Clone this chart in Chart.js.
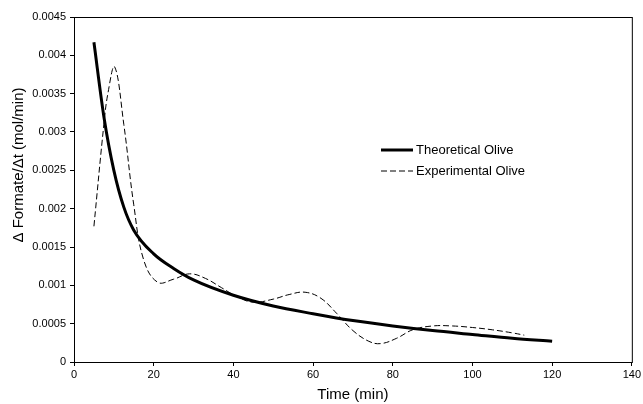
<!DOCTYPE html>
<html>
<head>
<meta charset="utf-8">
<script src="https://cdn.jsdelivr.net/npm/chart.js@4.4.1/dist/chart.umd.min.js"></script>
<style>
  html, body { margin: 0; padding: 0; background: #fff; }
  #wrap { width: 643px; height: 404px; }
</style>
</head>
<body>
<div id="wrap"><canvas id="chart"></canvas></div>
<script>
// Theoretical curve
const theoTime = [5, 7.5, 10, 12.5, 15, 20, 25, 30, 40, 50, 60, 70, 80, 90, 100, 110, 120];
const theoRate = [0.00417, 0.0032, 0.0025, 0.00202, 0.00172, 0.00141, 0.00122, 0.00107, 0.00087, 0.00073, 0.00063, 0.00054, 0.00047, 0.00041, 0.00036, 0.00031, 0.00027];

// Experimental curve
const expTime = [5, 7.5, 8.5, 10.2, 12.5, 15, 17.5, 21, 25, 29, 33, 37, 41, 45, 50, 54, 58, 62, 66, 70, 74, 77, 81, 85, 90, 95, 100, 105, 110, 113];
const expRate = [0.00177, 0.0031, 0.0035, 0.00385, 0.0031, 0.00205, 0.00133, 0.00104, 0.00108, 0.00115, 0.00109, 0.00097, 0.00085, 0.00078, 0.00082, 0.00088, 0.00091, 0.00083, 0.00063, 0.00041, 0.00027, 0.00024, 0.00031, 0.00042, 0.00047, 0.00047, 0.00045, 0.00042, 0.00038, 0.00035];

const xTicks = [0, 20, 40, 60, 80, 100, 120, 140];
const yTicks = [0, 0.0005, 0.001, 0.0015, 0.002, 0.0025, 0.003, 0.0035, 0.004, 0.0045];

const yTitle = 'Δ Formate/Δt (mol/min)';

const toPoints = (xs, ys) => xs.map((x, i) => ({ x: x, y: ys[i] }));

// box around the plot area, plus the y title (sits a bit above centre in the original)
const frame = {
    id: 'frame',
    afterDraw(chart) {
        const { ctx, chartArea: a } = chart;
        ctx.save();
        ctx.strokeStyle = '#000';
        ctx.lineWidth = 1;
        ctx.strokeRect(a.left + 0.5, a.top + 0.5, a.right - a.left, a.bottom - a.top);

        ctx.translate(19, 165);
        ctx.rotate(-Math.PI / 2);
        ctx.font = '15px "Liberation Sans", Arial, sans-serif';
        ctx.fillStyle = '#000';
        ctx.textAlign = 'center';
        ctx.textBaseline = 'middle';
        ctx.fillText(yTitle, 0, 0);
        ctx.restore();
    }
};

// legend placed inside the plot like the original
const innerLegend = {
    id: 'innerLegend',
    afterDraw(chart) {
        const ctx = chart.ctx;
        const x0 = 381, y0 = 150, gap = 21;
        ctx.save();
        ctx.font = '13px "Liberation Sans", Arial, sans-serif';
        ctx.fillStyle = '#000';
        ctx.textBaseline = 'middle';
        chart.data.datasets.forEach((ds, i) => {
            const y = y0 + i * gap;
            ctx.beginPath();
            ctx.strokeStyle = '#000';
            ctx.lineWidth = ds.borderWidth;
            ctx.setLineDash(ds.borderDash || []);
            ctx.moveTo(x0, y);
            ctx.lineTo(x0 + 32, y);
            ctx.stroke();
            ctx.setLineDash([]);
            ctx.fillText(ds.label, x0 + 35, y);
        });
        ctx.restore();
    }
};

Chart.defaults.font.family = '"Liberation Sans", Arial, sans-serif';
Chart.defaults.color = '#000';

new Chart(document.getElementById('chart'), {
    type: 'line',
    data: {
        datasets: [
            {
                label: 'Theoretical Olive',
                data: toPoints(theoTime, theoRate),
                borderColor: '#000',
                borderWidth: 3,
                pointRadius: 0,
                cubicInterpolationMode: 'monotone'
            },
            {
                label: 'Experimental Olive',
                data: toPoints(expTime, expRate),
                borderColor: '#000',
                borderWidth: 1,
                borderDash: [6, 3],
                pointRadius: 0,
                tension: 0.4
            }
        ]
    },
    options: {
        responsive: true,
        maintainAspectRatio: false,
        animation: false,
        layout: { padding: { top: 17, right: 10, left: 0, bottom: 0 } },
        plugins: {
            legend: { display: false },
            tooltip: { enabled: false }
        },
        scales: {
            x: {
                type: 'linear',
                min: 0,
                max: 140,
                afterBuildTicks: (s) => { s.ticks = xTicks.map(v => ({ value: v })); },
                ticks: { font: { size: 11 }, padding: 2 },
                grid: { drawOnChartArea: false, tickLength: 4, color: '#000' },
                border: { color: '#000' },
                title: { display: true, text: 'Time (min)', font: { size: 15 }, padding: { top: 0, bottom: 0 } },
                afterFit: (s) => { s.height = 42; }
            },
            y: {
                type: 'linear',
                min: 0,
                max: 0.0045,
                afterBuildTicks: (s) => { s.ticks = yTicks.map(v => ({ value: v })); },
                ticks: { font: { size: 11 }, padding: 4, callback: (v) => String(+v.toFixed(4)) },
                grid: { drawOnChartArea: false, tickLength: 4, color: '#000' },
                border: { color: '#000' },
                afterFit: (s) => { s.width = 74; }
            }
        }
    },
    plugins: [frame, innerLegend]
});
</script>
</body>
</html>
